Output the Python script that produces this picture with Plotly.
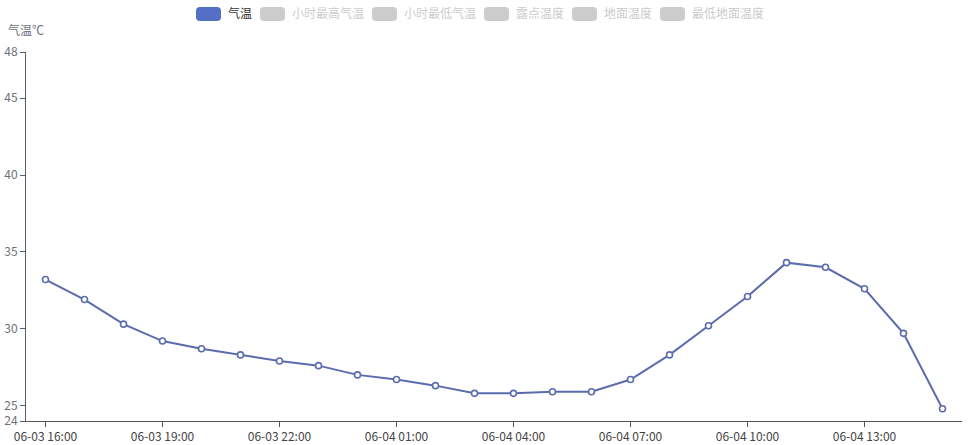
import plotly.graph_objects as go

# hourly observations, 06-03 16:00 .. 06-04 15:00
times = ["06-03 16:00", "06-03 17:00", "06-03 18:00", "06-03 19:00", "06-03 20:00",
         "06-03 21:00", "06-03 22:00", "06-03 23:00", "06-04 00:00", "06-04 01:00",
         "06-04 02:00", "06-04 03:00", "06-04 04:00", "06-04 05:00", "06-04 06:00",
         "06-04 07:00", "06-04 08:00", "06-04 09:00", "06-04 10:00", "06-04 11:00",
         "06-04 12:00", "06-04 13:00", "06-04 14:00", "06-04 15:00"]
temp = [33.2, 31.9, 30.3, 29.2, 28.7, 28.3, 27.9, 27.6, 27.0, 26.7, 26.3, 25.8,
        25.8, 25.9, 25.9, 26.7, 28.3, 30.2, 32.1, 34.3, 34.0, 32.6, 29.7, 24.8]

series_names = ["气温", "小时最高气温", "小时最低气温", "露点温度", "地面温度", "最低地面温度"]
y_ticks = [24, 25, 30, 35, 40, 45, 48]
x_ticks = times[::3]

W, H = 975, 445
L, R, T, B = 26, 13, 52, 24
pw, ph = W - L - R, H - T - B

def px_x(x):
    # window pixel -> paper fraction
    return (x - L) / pw

def px_y(y):
    return (H - B - y) / ph

line_col = "#5a6cae"

fig = go.Figure()
fig.add_trace(go.Scatter(
    x=times, y=temp, mode="lines+markers",
    line=dict(color=line_col, width=2),
    marker=dict(size=6, color="white", line=dict(color=line_col, width=1.6)),
    showlegend=False, hoverinfo="x+y",
))

# legend drawn by hand (roundRect icons)
shapes = []
annotations = []
x = 196
for i, name in enumerate(series_names):
    col = "#5470c6" if i == 0 else "#cccccc"
    shapes.append(dict(
        type="path", xref="paper", yref="paper",
        xsizemode="pixel", ysizemode="pixel",
        xanchor=px_x(x), yanchor=px_y(14),
        path="M 4 -7 L 21 -7 Q 25 -7 25 -3 L 25 3 Q 25 7 21 7 L 4 7 Q 0 7 0 3 L 0 -3 Q 0 -7 4 -7 Z",
        fillcolor=col, line=dict(width=0),
    ))
    annotations.append(dict(
        text=name, xref="paper", yref="paper", x=px_x(x + 30), y=px_y(13),
        xanchor="left", yanchor="middle", showarrow=False,
        font=dict(size=12, color="#333333" if i == 0 else "#cccccc"),
    ))
    x += 30 + 12 * len(name) + 10

annotations.append(dict(
    text="气温℃", xref="paper", yref="paper", x=0, y=px_y(30),
    xanchor="center", yanchor="middle", showarrow=False,
    font=dict(size=12, color="#6e7079"),
))

fig.update_layout(
    width=W, height=H,
    margin=dict(l=L, r=R, t=T, b=B),
    paper_bgcolor="white", plot_bgcolor="white",
    font=dict(family="Noto Sans CJK SC, Noto Sans, sans-serif", size=12),
    shapes=shapes, annotations=annotations,
    showlegend=False,
)
fig.update_xaxes(
    type="category", range=[-0.5, len(times) - 0.5],
    tickvals=x_ticks, ticktext=x_ticks, automargin=False,
    showline=True, linecolor="#555555", linewidth=1,
    ticks="outside", ticklen=5, tickcolor="#555555",
    showgrid=False, zeroline=False,
    tickfont=dict(size=12, color="#444444"),
)
fig.update_yaxes(
    range=[24, 48], tickvals=y_ticks, automargin=False,
    showline=True, linecolor="#5a5e70", linewidth=1,
    ticks="outside", ticklen=5, tickcolor="#5a5e70",
    showgrid=False, zeroline=False,
    tickfont=dict(size=12, color="#6e7079"),
)

# drop the browser's default 8px body margin so the figure sits at the window corner
fig.write_html("out.html", config={"displayModeBar": False},
               post_script="document.body.style.margin = '0px';")
